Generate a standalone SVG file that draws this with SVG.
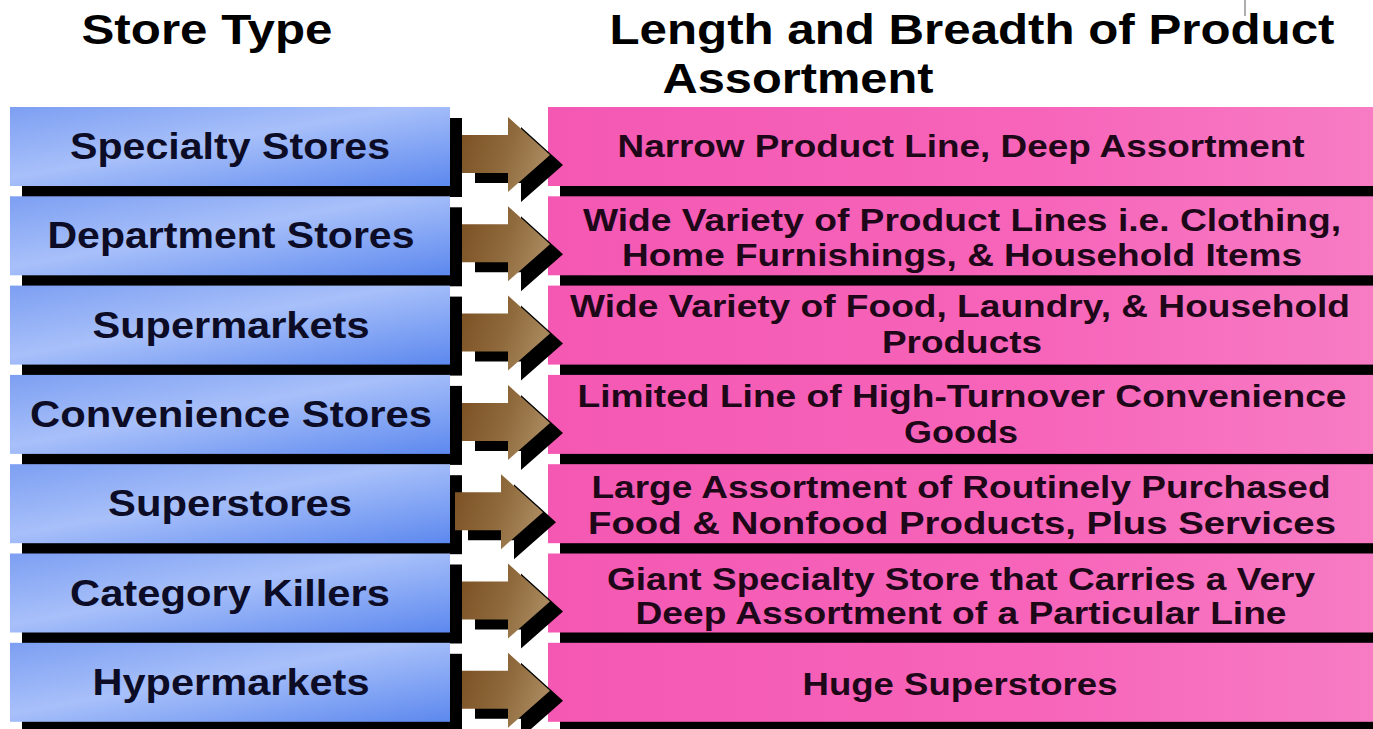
<svg xmlns="http://www.w3.org/2000/svg" width="1373" height="729" viewBox="0 0 1373 729">
  <defs>
    <linearGradient id="blueFill" x1="0" y1="0" x2="1" y2="1">
      <stop offset="0" stop-color="#7d9ff2"/>
      <stop offset="0.45" stop-color="#a8c0fa"/>
      <stop offset="1" stop-color="#5c88ee"/>
    </linearGradient>
    <linearGradient id="pinkFill" x1="0" y1="0" x2="1" y2="0">
      <stop offset="0" stop-color="#f458b3"/>
      <stop offset="0.6" stop-color="#f765ba"/>
      <stop offset="1" stop-color="#f77cc4"/>
    </linearGradient>
    <linearGradient id="arrowFill" x1="0" y1="0" x2="1" y2="0.3">
      <stop offset="0" stop-color="#7a4f22"/>
      <stop offset="0.6" stop-color="#8f6a3c"/>
      <stop offset="1" stop-color="#a8875c"/>
    </linearGradient>
    <!-- arrow outline, drawn relative to the row origin -->
    <polygon id="arrowShape" points="0,28 46,28 46,10 88,48 46,85 46,66 0,66"/>
  </defs>
  <style>
    .hdr { font-family: "Liberation Sans", Arial, sans-serif; font-weight: bold; font-size: 43px; fill: #000; text-anchor: middle; }
    .store { font-family: "Liberation Sans", Arial, sans-serif; font-weight: bold; font-size: 37px; fill: #0c0c26; text-anchor: middle; }
    .desc { font-family: "Liberation Sans", Arial, sans-serif; font-weight: bold; font-size: 32px; fill: #1e0718; text-anchor: middle; }
    .blue { fill: url(#blueFill); }
    .pink { fill: url(#pinkFill); }
    .shade { fill: #000; }
    .arrow { fill: url(#arrowFill); }
  </style>

  <rect width="1373" height="729" fill="#ffffff"/>

  <!-- column headings -->
  <g id="headings">
    <text class="hdr" x="207" y="44" textLength="251" lengthAdjust="spacingAndGlyphs">Store Type</text>
    <text class="hdr" x="972" y="44" textLength="725" lengthAdjust="spacingAndGlyphs">Length and Breadth of Product</text>
    <text class="hdr" x="798" y="93" textLength="271" lengthAdjust="spacingAndGlyphs">Assortment</text>
    <line x1="1245" y1="0" x2="1245" y2="16" stroke="#777" stroke-width="1.2"/>
  </g>

  <!-- store type boxes -->
  <g id="store-specialty">
    <rect class="shade" x="22" y="118" width="440" height="79"/>
    <rect class="blue" x="10" y="107" width="440" height="79"/>
    <text class="store" x="230" y="159" textLength="320" lengthAdjust="spacingAndGlyphs">Specialty Stores</text>
  </g>
  <g id="store-department">
    <rect class="shade" x="22" y="207.3" width="440" height="79"/>
    <rect class="blue" x="10" y="196.3" width="440" height="79"/>
    <text class="store" x="231" y="248" textLength="367" lengthAdjust="spacingAndGlyphs">Department Stores</text>
  </g>
  <g id="store-supermarkets">
    <rect class="shade" x="22" y="296.6" width="440" height="79"/>
    <rect class="blue" x="10" y="285.6" width="440" height="79"/>
    <text class="store" x="231" y="338" textLength="277" lengthAdjust="spacingAndGlyphs">Supermarkets</text>
  </g>
  <g id="store-convenience">
    <rect class="shade" x="22" y="385.9" width="440" height="79"/>
    <rect class="blue" x="10" y="374.9" width="440" height="79"/>
    <text class="store" x="231" y="427" textLength="402" lengthAdjust="spacingAndGlyphs">Convenience Stores</text>
  </g>
  <g id="store-superstores">
    <rect class="shade" x="22" y="475.2" width="440" height="79"/>
    <rect class="blue" x="10" y="464.2" width="440" height="79"/>
    <text class="store" x="230" y="516" textLength="244" lengthAdjust="spacingAndGlyphs">Superstores</text>
  </g>
  <g id="store-category">
    <rect class="shade" x="22" y="564.5" width="440" height="79"/>
    <rect class="blue" x="10" y="553.5" width="440" height="79"/>
    <text class="store" x="230" y="606" textLength="320" lengthAdjust="spacingAndGlyphs">Category Killers</text>
  </g>
  <g id="store-hyper">
    <rect class="shade" x="22" y="653.8" width="440" height="79"/>
    <rect class="blue" x="10" y="642.8" width="440" height="79"/>
    <text class="store" x="231" y="695" textLength="277" lengthAdjust="spacingAndGlyphs">Hypermarkets</text>
  </g>

  <!-- assortment boxes -->
  <g id="desc-specialty">
    <rect class="shade" x="560" y="118" width="830" height="79"/>
    <rect class="pink" x="548" y="107" width="830" height="79"/>
    <text class="desc" x="961" y="157" textLength="687" lengthAdjust="spacingAndGlyphs">Narrow Product Line, Deep Assortment</text>
  </g>
  <g id="desc-department">
    <rect class="shade" x="560" y="207.3" width="830" height="79"/>
    <rect class="pink" x="548" y="196.3" width="830" height="79"/>
    <text class="desc" x="962" y="231" textLength="758" lengthAdjust="spacingAndGlyphs">Wide Variety of Product Lines i.e. Clothing,</text>
    <text class="desc" x="962" y="266" textLength="680" lengthAdjust="spacingAndGlyphs">Home Furnishings, &amp; Household Items</text>
  </g>
  <g id="desc-supermarkets">
    <rect class="shade" x="560" y="296.6" width="830" height="79"/>
    <rect class="pink" x="548" y="285.6" width="830" height="79"/>
    <text class="desc" x="960" y="317" textLength="780" lengthAdjust="spacingAndGlyphs">Wide Variety of Food, Laundry, &amp; Household</text>
    <text class="desc" x="962" y="353" textLength="160" lengthAdjust="spacingAndGlyphs">Products</text>
  </g>
  <g id="desc-convenience">
    <rect class="shade" x="560" y="385.9" width="830" height="79"/>
    <rect class="pink" x="548" y="374.9" width="830" height="79"/>
    <text class="desc" x="962" y="407" textLength="769" lengthAdjust="spacingAndGlyphs">Limited Line of High-Turnover Convenience</text>
    <text class="desc" x="961" y="443" textLength="114" lengthAdjust="spacingAndGlyphs">Goods</text>
  </g>
  <g id="desc-superstores">
    <rect class="shade" x="560" y="475.2" width="830" height="79"/>
    <rect class="pink" x="548" y="464.2" width="830" height="79"/>
    <text class="desc" x="961" y="498" textLength="739" lengthAdjust="spacingAndGlyphs">Large Assortment of Routinely Purchased</text>
    <text class="desc" x="962" y="534" textLength="748" lengthAdjust="spacingAndGlyphs">Food &amp; Nonfood Products, Plus Services</text>
  </g>
  <g id="desc-category">
    <rect class="shade" x="560" y="564.5" width="830" height="79"/>
    <rect class="pink" x="548" y="553.5" width="830" height="79"/>
    <text class="desc" x="961" y="590" textLength="708" lengthAdjust="spacingAndGlyphs">Giant Specialty Store that Carries a Very</text>
    <text class="desc" x="961" y="624" textLength="651" lengthAdjust="spacingAndGlyphs">Deep Assortment of a Particular Line</text>
  </g>
  <g id="desc-hyper">
    <rect class="shade" x="560" y="653.8" width="830" height="79"/>
    <rect class="pink" x="548" y="642.8" width="830" height="79"/>
    <text class="desc" x="960" y="695" textLength="315" lengthAdjust="spacingAndGlyphs">Huge Superstores</text>
  </g>

  <!-- connector arrows, each with an offset drop shadow -->
  <g id="connectors">
    <g transform="translate(462,107)">
      <use href="#arrowShape" class="shade" transform="translate(13,10)"/>
      <use href="#arrowShape" class="arrow"/>
    </g>
    <g transform="translate(462,196.3)">
      <use href="#arrowShape" class="shade" transform="translate(13,10)"/>
      <use href="#arrowShape" class="arrow"/>
    </g>
    <g transform="translate(462,285.6)">
      <use href="#arrowShape" class="shade" transform="translate(13,10)"/>
      <use href="#arrowShape" class="arrow"/>
    </g>
    <g transform="translate(462,374.9)">
      <use href="#arrowShape" class="shade" transform="translate(13,10)"/>
      <use href="#arrowShape" class="arrow"/>
    </g>
    <g transform="translate(455,464.2)">
      <use href="#arrowShape" class="shade" transform="translate(13,10)"/>
      <use href="#arrowShape" class="arrow"/>
    </g>
    <g transform="translate(462,553.5)">
      <use href="#arrowShape" class="shade" transform="translate(13,10)"/>
      <use href="#arrowShape" class="arrow"/>
    </g>
    <g transform="translate(462,642.8)">
      <use href="#arrowShape" class="shade" transform="translate(13,10)"/>
      <use href="#arrowShape" class="arrow"/>
    </g>
  </g>
</svg>
